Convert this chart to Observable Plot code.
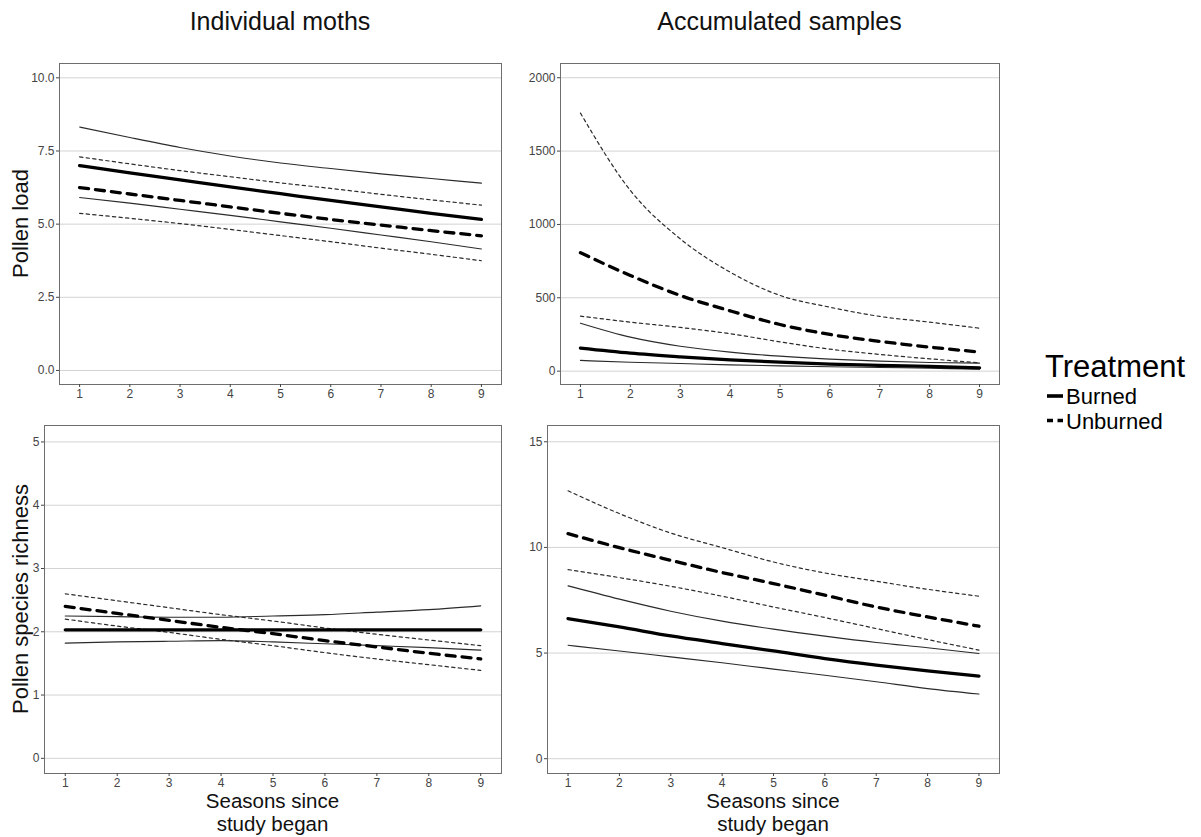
<!DOCTYPE html>
<html>
<head>
<meta charset="utf-8">
<script src="https://cdn.jsdelivr.net/npm/d3@7"></script>
<script src="https://cdn.jsdelivr.net/npm/@observablehq/plot@0.6"></script>
<style>
  body { margin: 0; background: #fff; }
  #root { position: relative; width: 1201px; height: 837px; overflow: hidden; background: #fff;
          font-family: "Liberation Sans", Arial, sans-serif; }
  #overlay { pointer-events: none; }
</style>
</head>
<body>
<div id="root"></div>
<script>
// ---------------- data ----------------
const seasons = [1, 2, 3, 4, 5, 6, 7, 8, 9];

const colTitles = ["Individual moths", "Accumulated samples"];
const rowTitles = ["Pollen load", "Pollen species richness"];
const xTitleLines = ["Seasons since", "study began"];
const legendTitle = "Treatment";
const treatments = ["Burned", "Unburned"];

// Individual moths – pollen load
const indLoadBurned     = [7.00, 6.75, 6.51, 6.27, 6.04, 5.81, 5.59, 5.37, 5.16];
const indLoadBurnedLo   = [5.91, 5.72, 5.51, 5.30, 5.08, 4.86, 4.63, 4.40, 4.15];
const indLoadBurnedHi   = [8.32, 7.96, 7.62, 7.33, 7.09, 6.90, 6.72, 6.56, 6.40];
const indLoadUnburned   = [6.25, 6.03, 5.81, 5.59, 5.37, 5.16, 4.97, 4.78, 4.60];
const indLoadUnburnedLo = [5.37, 5.20, 5.02, 4.82, 4.61, 4.40, 4.18, 3.97, 3.75];
const indLoadUnburnedHi = [7.30, 7.06, 6.83, 6.62, 6.41, 6.22, 6.02, 5.83, 5.65];

// Accumulated samples – pollen load
const accLoadBurned     = [157, 123, 98, 77, 61, 48, 39, 32, 23];
const accLoadBurnedLo   = [73, 61, 52, 43, 36, 30, 25, 20, 14];
const accLoadBurnedHi   = [327, 232, 170, 130, 102, 82, 68, 59, 55];
const accLoadUnburned   = [807, 652, 516, 411, 318, 250, 203, 164, 130];
const accLoadUnburnedLo = [375, 334, 298, 255, 200, 150, 114, 84, 57];
const accLoadUnburnedHi = [1759, 1232, 902, 675, 516, 436, 373, 334, 293];

// Individual moths – pollen species richness
const indRichBurned     = [2.03, 2.03, 2.03, 2.03, 2.03, 2.03, 2.03, 2.03, 2.03];
const indRichBurnedLo   = [1.82, 1.84, 1.85, 1.86, 1.84, 1.81, 1.78, 1.75, 1.71];
const indRichBurnedHi   = [2.25, 2.24, 2.23, 2.23, 2.25, 2.27, 2.31, 2.35, 2.41];
const indRichUnburned   = [2.40, 2.29, 2.18, 2.07, 1.97, 1.86, 1.76, 1.66, 1.57];
const indRichUnburnedLo = [2.20, 2.09, 1.99, 1.88, 1.78, 1.67, 1.57, 1.48, 1.39];
const indRichUnburnedHi = [2.60, 2.49, 2.38, 2.27, 2.17, 2.06, 1.96, 1.87, 1.78];

// Accumulated samples – pollen species richness
const accRichBurned     = [6.63, 6.24, 5.81, 5.45, 5.10, 4.74, 4.43, 4.16, 3.91];
const accRichBurnedLo   = [5.37, 5.10, 4.82, 4.54, 4.24, 3.95, 3.64, 3.32, 3.06];
const accRichBurnedHi   = [8.18, 7.55, 6.98, 6.51, 6.13, 5.80, 5.50, 5.25, 4.98];
const accRichUnburned   = [10.65, 9.99, 9.39, 8.81, 8.29, 7.74, 7.18, 6.71, 6.27];
const accRichUnburnedLo = [8.95, 8.57, 8.16, 7.69, 7.18, 6.68, 6.16, 5.64, 5.14];
const accRichUnburnedHi = [12.68, 11.60, 10.68, 9.99, 9.31, 8.79, 8.40, 8.02, 7.69];

// tick values
const ticksIndLoad = [0, 2.5, 5, 7.5, 10];
const ticksAccLoad = [0, 500, 1000, 1500, 2000];
const ticksIndRich = [0, 1, 2, 3, 4, 5];
const ticksAccRich = [0, 5, 10, 15];

// ---------------- helpers ----------------
function rows(arr, band) {
  return seasons.map((s, i) => ({ season: s, value: arr[i], band }));
}

const root = document.getElementById("root");
const FONT = "'Liberation Sans', Arial, sans-serif";

function panel(cfg) {
  const { fit, ci, yDomain, yTicks, yFormat, frame, box } = cfg;
  const [L, R, T, B] = frame;
  const [sx, sy, sw, sh] = box;
  const chart = Plot.plot({
    width: sw,
    height: sh,
    marginLeft: L - sx,
    marginRight: sx + sw - R,
    marginTop: T - sy,
    marginBottom: sy + sh - B,
    style: { fontFamily: FONT, fontSize: "12px", background: "transparent", overflow: "visible" },
    x: { domain: [0.6, 9.4], label: null },
    y: { domain: yDomain, label: null },
    marks: [
      Plot.gridY(yTicks, { stroke: "#d3d3d3", strokeOpacity: 1, strokeWidth: 1 }),
      Plot.line(ci.burned, { x: "season", y: "value", z: "band", stroke: "#2b2b2b", strokeWidth: 1.15, curve: "monotone-x" }),
      Plot.line(ci.unburned, { x: "season", y: "value", z: "band", stroke: "#2b2b2b", strokeWidth: 1.2, strokeDasharray: "3.3,3.3", curve: "monotone-x" }),
      Plot.line(fit.burned, { x: "season", y: "value", stroke: "#000", strokeWidth: 3.3, curve: "monotone-x" }),
      Plot.line(fit.unburned, { x: "season", y: "value", stroke: "#000", strokeWidth: 3.3, strokeDasharray: "9,7", curve: "monotone-x" }),
      Plot.frame({ stroke: "#6e6e6e", strokeWidth: 1 }),
      Plot.axisX({ ticks: seasons, tickSize: 3, tickPadding: 1.5, label: null, color: "#444", fontSize: 12 }),
      Plot.axisY({ ticks: yTicks, tickFormat: yFormat, tickSize: 3, tickPadding: 2, label: null, color: "#444", fontSize: 12 })
    ]
  });
  chart.style.position = "absolute";
  chart.style.left = sx + "px";
  chart.style.top = sy + "px";
  root.appendChild(chart);
}

panel({
  fit: { burned: rows(indLoadBurned, "fit"), unburned: rows(indLoadUnburned, "fit") },
  ci: {
    burned: [...rows(indLoadBurnedLo, "lo"), ...rows(indLoadBurnedHi, "hi")],
    unburned: [...rows(indLoadUnburnedLo, "lo"), ...rows(indLoadUnburnedHi, "hi")]
  },
  yDomain: [-0.48, 10.49], yTicks: ticksIndLoad, yFormat: d3.format(".1f"),
  frame: [59, 501, 63, 384], box: [0, 50, 520, 360]
});

panel({
  fit: { burned: rows(accLoadBurned, "fit"), unburned: rows(accLoadUnburned, "fit") },
  ci: {
    burned: [...rows(accLoadBurnedLo, "lo"), ...rows(accLoadBurnedHi, "hi")],
    unburned: [...rows(accLoadUnburnedLo, "lo"), ...rows(accLoadUnburnedHi, "hi")]
  },
  yDomain: [-91, 2097], yTicks: ticksAccLoad, yFormat: d3.format("d"),
  frame: [560, 999, 63, 384], box: [520, 50, 500, 360]
});

panel({
  fit: { burned: rows(indRichBurned, "fit"), unburned: rows(indRichUnburned, "fit") },
  ci: {
    burned: [...rows(indRichBurnedLo, "lo"), ...rows(indRichBurnedHi, "hi")],
    unburned: [...rows(indRichUnburnedLo, "lo"), ...rows(indRichUnburnedHi, "hi")]
  },
  yDomain: [-0.24, 5.26], yTicks: ticksIndRich, yFormat: d3.format("d"),
  frame: [44, 501, 425, 773], box: [0, 410, 520, 385]
});

panel({
  fit: { burned: rows(accRichBurned, "fit"), unburned: rows(accRichUnburned, "fit") },
  ci: {
    burned: [...rows(accRichBurnedLo, "lo"), ...rows(accRichBurnedHi, "hi")],
    unburned: [...rows(accRichUnburnedLo, "lo"), ...rows(accRichUnburnedHi, "hi")]
  },
  yDomain: [-0.7, 15.77], yTicks: ticksAccRich, yFormat: d3.format("d"),
  frame: [547, 999, 425, 773], box: [520, 410, 500, 385]
});

// ---------------- overlay text & legend ----------------
const NS = "http://www.w3.org/2000/svg";
const ov = document.createElementNS(NS, "svg");
ov.setAttribute("id", "overlay");
ov.setAttribute("width", 1201);
ov.setAttribute("height", 837);
ov.style.position = "absolute";
ov.style.left = "0px";
ov.style.top = "0px";
ov.style.fontFamily = FONT;
root.appendChild(ov);

function txt(str, x, y, size, opts = {}) {
  const t = document.createElementNS(NS, "text");
  t.textContent = str;
  t.setAttribute("x", x);
  t.setAttribute("y", y);
  t.setAttribute("font-size", size);
  t.setAttribute("fill", opts.fill || "#111");
  t.setAttribute("text-anchor", opts.anchor || "middle");
  if (opts.rotate) t.setAttribute("transform", `rotate(-90 ${x} ${y})`);
  ov.appendChild(t);
  return t;
}
function seg(x1, y1, x2, y2, w, dash) {
  const l = document.createElementNS(NS, "line");
  l.setAttribute("x1", x1); l.setAttribute("y1", y1);
  l.setAttribute("x2", x2); l.setAttribute("y2", y2);
  l.setAttribute("stroke", "#000");
  l.setAttribute("stroke-width", w);
  if (dash) l.setAttribute("stroke-dasharray", dash);
  ov.appendChild(l);
}

// column titles
txt(colTitles[0], 280, 30, 25);
txt(colTitles[1], 779.5, 30, 25);
// row titles
txt(rowTitles[0], 28, 223.5, 22, { rotate: true });
txt(rowTitles[1], 28, 599, 22, { rotate: true });
// x titles (two lines)
[272.5, 773].forEach(cx => {
  txt(xTitleLines[0], cx, 807.5, 20.5);
  txt(xTitleLines[1], cx, 830.5, 20.5);
});
// legend
txt(legendTitle, 1045, 377, 31, { anchor: "start", fill: "#000" });
seg(1047, 396, 1063, 396, 3.6);
txt(treatments[0], 1066, 403.8, 22, { anchor: "start", fill: "#000" });
seg(1047, 420.5, 1063, 420.5, 3.6, "6,4.5");
txt(treatments[1], 1066, 428.6, 22, { anchor: "start", fill: "#000" });
</script>
</body>
</html>
